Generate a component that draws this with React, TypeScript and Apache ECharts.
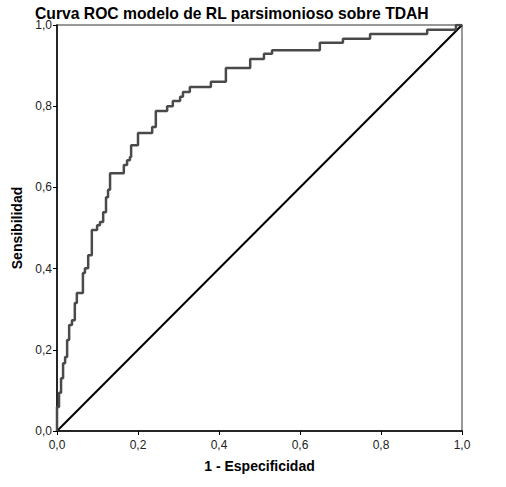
import React, { useEffect, useRef } from "react";
import * as echarts from "echarts";

const title = "Curva ROC modelo de RL parsimonioso sobre TDAH";
const xName = "1 - Especificidad";
const yName = "Sensibilidad";
const tickValues = [0, 0.2, 0.4, 0.6, 0.8, 1.0];

// ROC step vertices (1 - specificity, sensitivity)
const fpr = [
  0, 0, 0.005, 0.01, 0.015, 0.02, 0.025, 0.03, 0.037, 0.044, 0.049, 0.064,
  0.069, 0.077, 0.086, 0.099, 0.106, 0.114, 0.121, 0.126, 0.131, 0.165, 0.173,
  0.18, 0.183, 0.2, 0.235, 0.244, 0.272, 0.286, 0.304, 0.311, 0.328, 0.38,
  0.417, 0.477, 0.511, 0.531, 0.649, 0.706, 0.773, 0.914, 0.985, 1.0,
];
const tpr = [
  0, 0.059, 0.094, 0.13, 0.167, 0.182, 0.224, 0.261, 0.273, 0.315, 0.34, 0.389,
  0.401, 0.433, 0.495, 0.507, 0.515, 0.539, 0.576, 0.594, 0.635, 0.655, 0.667,
  0.675, 0.704, 0.734, 0.749, 0.788, 0.8, 0.813, 0.823, 0.835, 0.847, 0.86,
  0.894, 0.916, 0.929, 0.938, 0.956, 0.966, 0.978, 0.988, 1.0, 1.0,
];
const refX = [0, 1];
const refY = [0, 1];

const fmt = (v: number) => v.toFixed(1).replace(".", ",");

export default function App() {
  const ref = useRef<HTMLDivElement>(null);
  useEffect(() => {
    document.body.style.margin = "0";
    const chart = echarts.init(ref.current!, null, { renderer: "svg" });
    const font = "'Liberation Sans', Arial, sans-serif";
    const axisCommon = {
      type: "value" as const,
      min: 0,
      max: 1,
      interval: 0.2,
      splitLine: { show: false },
      axisLine: { show: true, lineStyle: { color: "#000", width: 1.5 } },
      axisTick: { show: true, length: 4, lineStyle: { color: "#000", width: 1 } },
      nameLocation: "middle" as const,
      nameTextStyle: { fontFamily: font, fontWeight: "bold" as const, fontSize: 14, color: "#000" },
    };
    chart.setOption({
      animation: false,
      backgroundColor: "#fff",
      title: {
        text: title,
        left: 35,
        top: 7,
        padding: 0,
        textStyle: { fontFamily: font, fontWeight: "bold", fontSize: 15.7, lineHeight: 13, color: "#000" },
      },
      grid: {
        left: 57,
        right: 44,
        top: 25,
        bottom: 56,
        show: true,
        borderColor: "#777",
        borderWidth: 1.5,
        backgroundColor: "#fff",
      },
      xAxis: {
        ...axisCommon,
        name: xName,
        nameGap: 28,
        axisLabel: {
          margin: 8,
          fontFamily: font,
          fontSize: 12,
          color: "#222",
          formatter: (v: number) => fmt(v),
          customValues: tickValues,
        },
      },
      yAxis: {
        ...axisCommon,
        name: yName,
        nameGap: 32,
        axisLabel: {
          margin: 5,
          fontFamily: font,
          fontSize: 12,
          lineHeight: 7,
          color: "#222",
          formatter: (v: number) => fmt(v),
        },
      },
      series: [
        {
          type: "line",
          data: refX.map((x, i) => [x, refY[i]]),
          symbol: "none",
          lineStyle: { color: "#000", width: 2 },
          z: 3,
        },
        {
          type: "line",
          step: "end",
          data: fpr.map((x, i) => [x, tpr[i]]),
          symbol: "none",
          lineStyle: { color: "#4a4a4a", width: 2.5 },
          z: 4,
        },
      ],
    });
    return () => chart.dispose();
  }, []);
  return <div ref={ref} style={{ width: 506, height: 487 }} />;
}
